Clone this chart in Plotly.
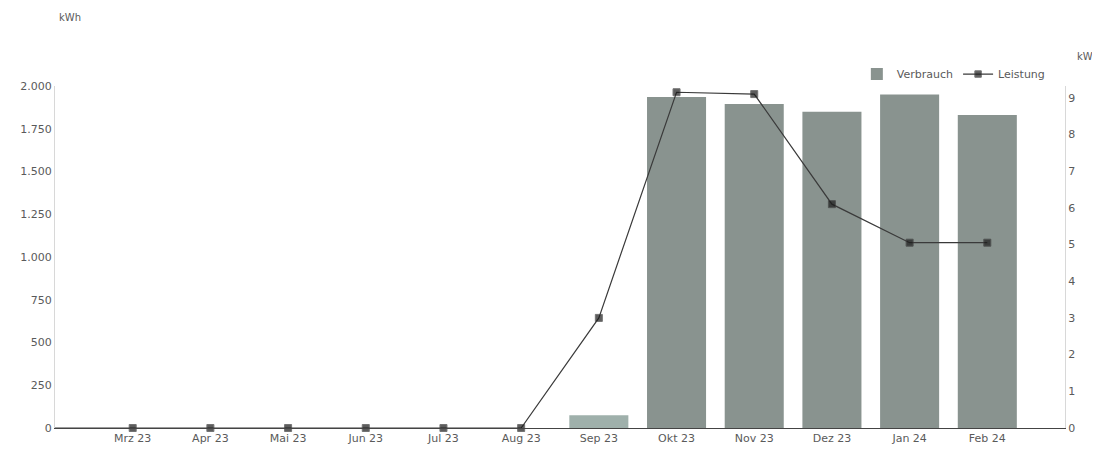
import plotly.graph_objects as go

# Data
months = ["Feb 23", "Mrz 23", "Apr 23", "Mai 23", "Jun 23", "Jul 23", "Aug 23",
          "Sep 23", "Okt 23", "Nov 23", "Dez 23", "Jan 24", "Feb 24"]
tick_labels = ["", "Mrz 23", "Apr 23", "Mai 23", "Jun 23", "Jul 23", "Aug 23",
               "Sep 23", "Okt 23", "Nov 23", "Dez 23", "Jan 24", "Feb 24"]
verbrauch = [None, 0, 0, 0, 0, 0, 0, 75, 1935, 1895, 1850, 1950, 1830]   # kWh
leistung = [0, 0, 0, 0, 0, 0, 0, 3.0, 9.15, 9.1, 6.1, 5.05, 5.05]       # kW

xpos = list(range(len(months)))
bar_colors = ["#89938f"] * len(months)
bar_colors[7] = "#9fb0ab"
marker_sizes = [0] + [7] * (len(months) - 1)

grey = "#5a5a5a"
fnt = "DejaVu Sans"

fig = go.Figure()
fig.add_trace(go.Bar(
    x=xpos, y=verbrauch, name="Verbrauch", width=0.76,
    marker=dict(color=bar_colors, line=dict(width=0)),
    yaxis="y", hovertemplate="%{y} kWh<extra></extra>",
))
fig.add_trace(go.Scatter(
    x=xpos, y=leistung, name="Leistung", mode="lines+markers",
    line=dict(color="#3a3a3a", width=1.2),
    marker=dict(symbol="square", size=marker_sizes, color="#1a1a1a"),
    yaxis="y2", cliponaxis=False,
))

fig.update_layout(
    width=1092, height=452,
    margin=dict(l=47, r=35, t=78, b=32, autoexpand=False),
    paper_bgcolor="white", plot_bgcolor="white",
    separators=",.",
    font=dict(family=fnt, size=11, color=grey),
    showlegend=True,
    legend=dict(orientation="h", x=0.985, xanchor="right", y=1.035, yanchor="middle",
                font=dict(size=11, color=grey), itemwidth=30,
                bgcolor="rgba(0,0,0,0)", traceorder="normal"),
    xaxis=dict(range=[0, 13], tickvals=xpos, ticktext=tick_labels,
               showgrid=False, zeroline=False, showline=True, automargin=False,
               linecolor="#444", linewidth=1.2, ticks="",
               tickfont=dict(size=11, color=grey)),
    yaxis=dict(range=[0, 2000], tickvals=[0, 250, 500, 750, 1000, 1250, 1500, 1750, 2000],
               tickformat=",d", showgrid=False, zeroline=False, automargin=False,
               showline=True, linecolor="#d8d8d8", linewidth=1,
               ticks="", tickfont=dict(size=11, color=grey)),
    yaxis2=dict(range=[0, 9.32], tickvals=list(range(10)), overlaying="y", side="right",
                showgrid=False, zeroline=False, showline=True, automargin=False,
                linecolor="#d8d8d8", linewidth=1, ticks="",
                tickfont=dict(size=11, color=grey)),
    annotations=[
        dict(text="kWh", xref="paper", yref="paper", x=0.015, y=1.2, xanchor="center",
             yanchor="middle", showarrow=False, font=dict(size=10, color=grey)),
        dict(text="kW", xref="paper", yref="paper", x=1.02, y=1.085, xanchor="center",
             yanchor="middle", showarrow=False, font=dict(size=10, color=grey)),
    ],
)

fig.write_html("out.html")
